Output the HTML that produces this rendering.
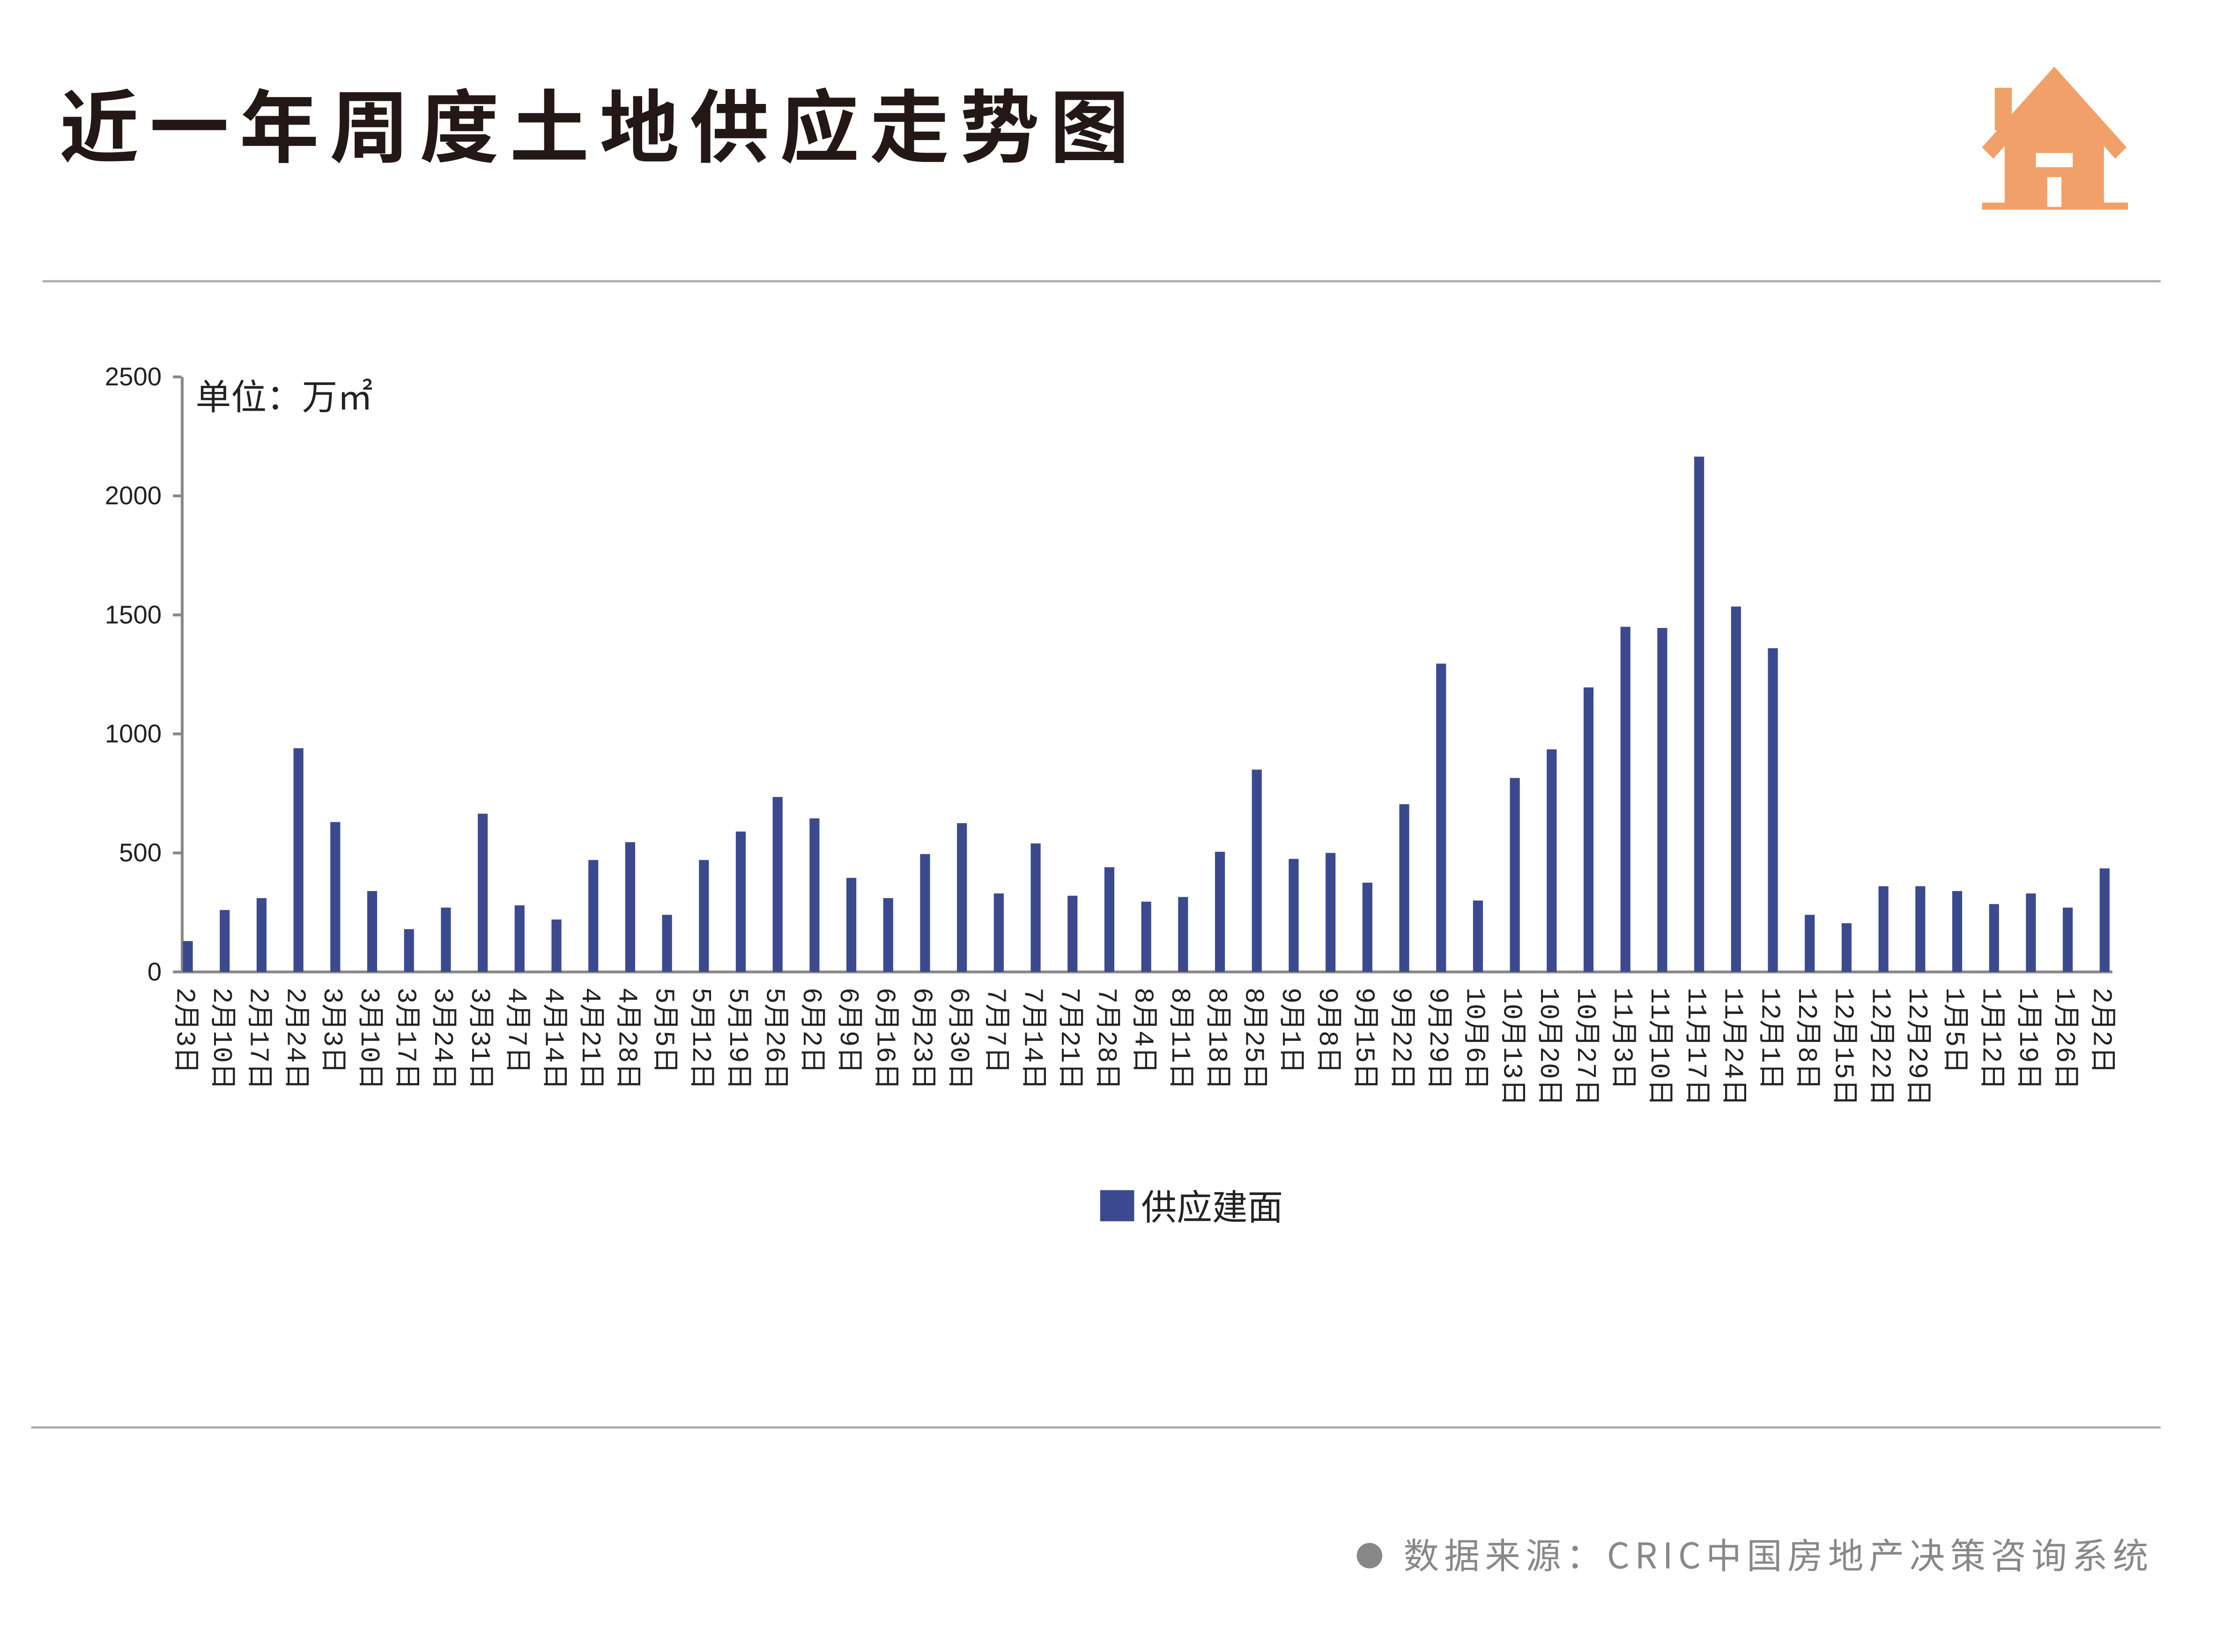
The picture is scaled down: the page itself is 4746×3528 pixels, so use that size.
<!DOCTYPE html>
<html><head><meta charset="utf-8"><style>
html,body{margin:0;padding:0;background:#fff;}
svg{display:block;}
</style></head><body>
<svg width="4746" height="3528" viewBox="0 0 1568 1166" preserveAspectRatio="none" xmlns="http://www.w3.org/2000/svg" font-family="'Liberation Sans','Noto Sans CJK SC',sans-serif">
<rect width="1568" height="1166" fill="#fff"/>
<text x="42" y="110" font-size="56" font-weight="bold" fill="#231815" font-family="'Noto Sans CJK SC',sans-serif" letter-spacing="7.5">近一年周度土地供应走势图</text>
<g fill="#F0A068">
<polygon points="1398,104 1449,47 1500,104 1492,112 1449,64 1406,112"/>
<rect x="1407" y="62" width="12" height="30"/>
<polygon points="1414,100 1449,64 1484,100 1484,146 1414,146"/>
<rect x="1398" y="143" width="103" height="5"/>
</g>
<rect x="1436" y="108" width="26" height="10" fill="#fff"/>
<rect x="1444" y="125" width="10" height="21" fill="#fff"/>
<line x1="30" y1="198.5" x2="1524" y2="198.5" stroke="#aaa" stroke-width="1.5"/>
<line x1="22" y1="1007.5" x2="1524" y2="1007.5" stroke="#aaa" stroke-width="1.5"/>
<line x1="128.5" y1="266" x2="128.5" y2="686" stroke="#888" stroke-width="2"/>
<line x1="128" y1="686" x2="1490" y2="686" stroke="#888" stroke-width="2"/>
<g stroke="#888" stroke-width="2">
<line x1="122" y1="266" x2="128" y2="266"/><line x1="122" y1="350" x2="128" y2="350"/><line x1="122" y1="434" x2="128" y2="434"/><line x1="122" y1="518" x2="128" y2="518"/><line x1="122" y1="602" x2="128" y2="602"/><line x1="122" y1="686" x2="128" y2="686"/>
</g>
<g font-size="18" fill="#222" text-anchor="end">
<text x="114" y="272">2500</text><text x="114" y="356">2000</text><text x="114" y="440">1500</text><text x="114" y="524">1000</text><text x="114" y="608">500</text><text x="114" y="692">0</text>
</g>
<text x="138" y="289" font-size="25" fill="#222" font-family="'Noto Sans CJK SC',sans-serif">单位：万㎡</text>
<g fill="#3B4A8E">
<rect x="129" y="664.2" width="7" height="21.8"/>
<rect x="155" y="642.3" width="7" height="43.7"/>
<rect x="181" y="633.9" width="7" height="52.1"/>
<rect x="207" y="528.1" width="7" height="157.9"/>
<rect x="233" y="580.2" width="7" height="105.8"/>
<rect x="259" y="628.9" width="7" height="57.1"/>
<rect x="285" y="655.8" width="7" height="30.2"/>
<rect x="311" y="640.6" width="7" height="45.4"/>
<rect x="337" y="574.3" width="7" height="111.7"/>
<rect x="363" y="639" width="7" height="47"/>
<rect x="389" y="649" width="7" height="37"/>
<rect x="415" y="607" width="7" height="79"/>
<rect x="441" y="594.4" width="7" height="91.6"/>
<rect x="467" y="645.7" width="7" height="40.3"/>
<rect x="493" y="607" width="7" height="79"/>
<rect x="519" y="586.9" width="7" height="99.1"/>
<rect x="545" y="562.5" width="7" height="123.5"/>
<rect x="571" y="577.6" width="7" height="108.4"/>
<rect x="597" y="619.6" width="7" height="66.4"/>
<rect x="623" y="633.9" width="7" height="52.1"/>
<rect x="649" y="602.8" width="7" height="83.2"/>
<rect x="675" y="581" width="7" height="105"/>
<rect x="701" y="630.6" width="7" height="55.4"/>
<rect x="727" y="595.3" width="7" height="90.7"/>
<rect x="753" y="632.2" width="7" height="53.8"/>
<rect x="779" y="612.1" width="7" height="73.9"/>
<rect x="805" y="636.4" width="7" height="49.6"/>
<rect x="831" y="633.1" width="7" height="52.9"/>
<rect x="857" y="601.2" width="7" height="84.8"/>
<rect x="883" y="543.2" width="7" height="142.8"/>
<rect x="909" y="606.2" width="7" height="79.8"/>
<rect x="935" y="602" width="7" height="84"/>
<rect x="961" y="623" width="7" height="63"/>
<rect x="987" y="567.6" width="7" height="118.4"/>
<rect x="1013" y="468.4" width="7" height="217.6"/>
<rect x="1039" y="635.6" width="7" height="50.4"/>
<rect x="1065" y="549.1" width="7" height="136.9"/>
<rect x="1091" y="528.9" width="7" height="157.1"/>
<rect x="1117" y="485.2" width="7" height="200.8"/>
<rect x="1143" y="442.4" width="7" height="243.6"/>
<rect x="1169" y="443.2" width="7" height="242.8"/>
<rect x="1195" y="322.3" width="7" height="363.7"/>
<rect x="1221" y="428.1" width="7" height="257.9"/>
<rect x="1247" y="457.5" width="7" height="228.5"/>
<rect x="1273" y="645.7" width="7" height="40.3"/>
<rect x="1299" y="651.6" width="7" height="34.4"/>
<rect x="1325" y="625.5" width="7" height="60.5"/>
<rect x="1351" y="625.5" width="7" height="60.5"/>
<rect x="1377" y="628.9" width="7" height="57.1"/>
<rect x="1403" y="638.1" width="7" height="47.9"/>
<rect x="1429" y="630.6" width="7" height="55.4"/>
<rect x="1455" y="640.6" width="7" height="45.4"/>
<rect x="1481" y="612.9" width="7" height="73.1"/>
</g>
<g font-size="19" fill="#222" font-family="'Liberation Mono','Noto Sans CJK SC',monospace">
<text transform="translate(125,697) rotate(90)">2月3日</text>
<text transform="translate(151,697) rotate(90)">2月10日</text>
<text transform="translate(177,697) rotate(90)">2月17日</text>
<text transform="translate(203,697) rotate(90)">2月24日</text>
<text transform="translate(229,697) rotate(90)">3月3日</text>
<text transform="translate(255,697) rotate(90)">3月10日</text>
<text transform="translate(281,697) rotate(90)">3月17日</text>
<text transform="translate(307,697) rotate(90)">3月24日</text>
<text transform="translate(333,697) rotate(90)">3月31日</text>
<text transform="translate(359,697) rotate(90)">4月7日</text>
<text transform="translate(385,697) rotate(90)">4月14日</text>
<text transform="translate(411,697) rotate(90)">4月21日</text>
<text transform="translate(437,697) rotate(90)">4月28日</text>
<text transform="translate(463,697) rotate(90)">5月5日</text>
<text transform="translate(489,697) rotate(90)">5月12日</text>
<text transform="translate(515,697) rotate(90)">5月19日</text>
<text transform="translate(541,697) rotate(90)">5月26日</text>
<text transform="translate(567,697) rotate(90)">6月2日</text>
<text transform="translate(593,697) rotate(90)">6月9日</text>
<text transform="translate(619,697) rotate(90)">6月16日</text>
<text transform="translate(645,697) rotate(90)">6月23日</text>
<text transform="translate(671,697) rotate(90)">6月30日</text>
<text transform="translate(697,697) rotate(90)">7月7日</text>
<text transform="translate(723,697) rotate(90)">7月14日</text>
<text transform="translate(749,697) rotate(90)">7月21日</text>
<text transform="translate(775,697) rotate(90)">7月28日</text>
<text transform="translate(801,697) rotate(90)">8月4日</text>
<text transform="translate(827,697) rotate(90)">8月11日</text>
<text transform="translate(853,697) rotate(90)">8月18日</text>
<text transform="translate(879,697) rotate(90)">8月25日</text>
<text transform="translate(905,697) rotate(90)">9月1日</text>
<text transform="translate(931,697) rotate(90)">9月8日</text>
<text transform="translate(957,697) rotate(90)">9月15日</text>
<text transform="translate(983,697) rotate(90)">9月22日</text>
<text transform="translate(1009,697) rotate(90)">9月29日</text>
<text transform="translate(1035,697) rotate(90)">10月6日</text>
<text transform="translate(1061,697) rotate(90)">10月13日</text>
<text transform="translate(1087,697) rotate(90)">10月20日</text>
<text transform="translate(1113,697) rotate(90)">10月27日</text>
<text transform="translate(1139,697) rotate(90)">11月3日</text>
<text transform="translate(1165,697) rotate(90)">11月10日</text>
<text transform="translate(1191,697) rotate(90)">11月17日</text>
<text transform="translate(1217,697) rotate(90)">11月24日</text>
<text transform="translate(1243,697) rotate(90)">12月1日</text>
<text transform="translate(1269,697) rotate(90)">12月8日</text>
<text transform="translate(1295,697) rotate(90)">12月15日</text>
<text transform="translate(1321,697) rotate(90)">12月22日</text>
<text transform="translate(1347,697) rotate(90)">12月29日</text>
<text transform="translate(1373,697) rotate(90)">1月5日</text>
<text transform="translate(1399,697) rotate(90)">1月12日</text>
<text transform="translate(1425,697) rotate(90)">1月19日</text>
<text transform="translate(1451,697) rotate(90)">1月26日</text>
<text transform="translate(1477,697) rotate(90)">2月2日</text>
</g>
<rect x="776" y="840" width="24" height="22" fill="#3B4A8E"/>
<text x="805" y="861" font-size="25" fill="#222" font-family="'Noto Sans CJK SC',sans-serif">供应建面</text>
<circle cx="966" cy="1098" r="9" fill="#888"/>
<text x="990" y="1107" font-size="25" fill="#888" font-family="'Noto Sans CJK SC',sans-serif" letter-spacing="3.7">数据来源：CRIC中国房地产决策咨询系统</text>
</svg>
</body></html>
